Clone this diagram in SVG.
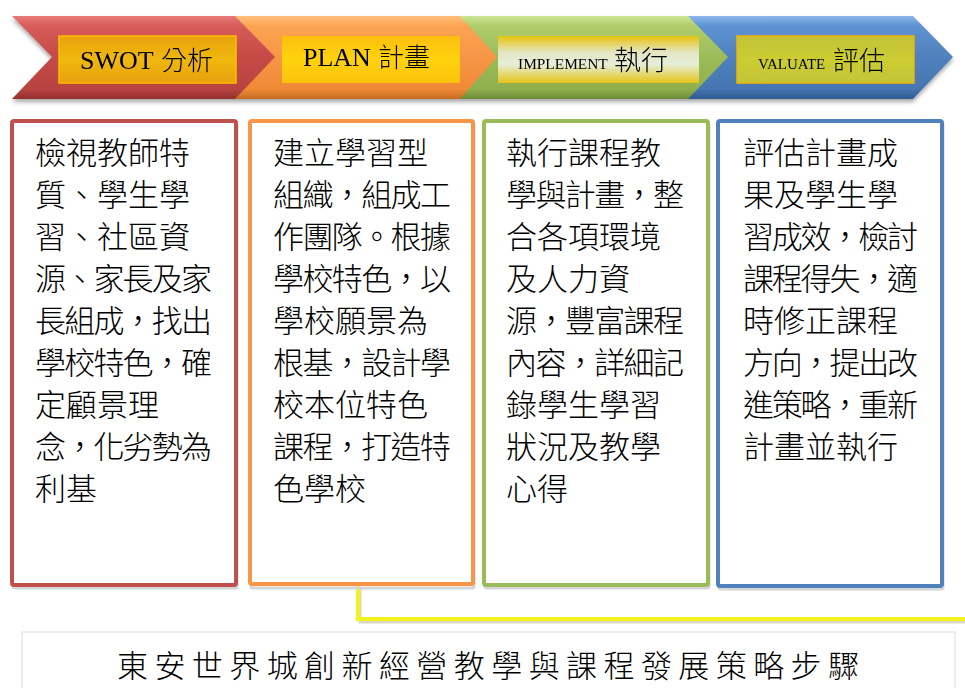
<svg xmlns="http://www.w3.org/2000/svg" width="965" height="688" viewBox="0 0 965 688">
<style>
.lbl{font-family:"Liberation Serif","Noto Sans CJK TC",serif;fill:#000}
.cjk{font-family:"Noto Sans CJK TC","Noto Sans CJK JP",sans-serif;font-weight:300}
.body{font-family:"Noto Sans CJK TC","Noto Sans CJK JP",sans-serif;font-size:31px;font-weight:300;fill:#000}
.box{fill:#fff;stroke-width:4}
.shadow{fill:none;stroke:#d6d6d6;stroke-width:3}
</style>
<defs>
<linearGradient id="gRed" x1="0" y1="0" x2="0" y2="1">
<stop offset="0" stop-color="#e87a78"/><stop offset="0.12" stop-color="#d65c59"/><stop offset="0.5" stop-color="#c64a47"/><stop offset="0.88" stop-color="#b84340"/><stop offset="1" stop-color="#93302e"/>
</linearGradient>
<linearGradient id="gOrange" x1="0" y1="0" x2="0" y2="1">
<stop offset="0" stop-color="#fdc07c"/><stop offset="0.12" stop-color="#fba452"/><stop offset="0.5" stop-color="#f79646"/><stop offset="0.88" stop-color="#ef8a36"/><stop offset="1" stop-color="#c86a22"/>
</linearGradient>
<linearGradient id="gGreen" x1="0" y1="0" x2="0" y2="1">
<stop offset="0" stop-color="#cde596"/><stop offset="0.12" stop-color="#b0cc6c"/><stop offset="0.5" stop-color="#9bbb59"/><stop offset="0.88" stop-color="#90b04e"/><stop offset="1" stop-color="#6e8a38"/>
</linearGradient>
<linearGradient id="gBlue" x1="0" y1="0" x2="0" y2="1">
<stop offset="0" stop-color="#8cb6ea"/><stop offset="0.12" stop-color="#5e92d2"/><stop offset="0.5" stop-color="#4f81bd"/><stop offset="0.88" stop-color="#4676b2"/><stop offset="1" stop-color="#2f5a90"/>
</linearGradient>
<linearGradient id="gSwot" x1="0" y1="0" x2="0" y2="1">
<stop offset="0" stop-color="#e8a20e"/><stop offset="0.5" stop-color="#f0b810"/><stop offset="1" stop-color="#e6a00c"/>
</linearGradient>
<linearGradient id="gPlan" x1="0" y1="0" x2="0" y2="1">
<stop offset="0" stop-color="#fcbf0a"/><stop offset="0.5" stop-color="#ffd20a"/><stop offset="1" stop-color="#fcc208"/>
</linearGradient>
<linearGradient id="gImpl" x1="0" y1="0" x2="0" y2="1">
<stop offset="0" stop-color="#e6c20c"/><stop offset="0.35" stop-color="#e4e6c4"/><stop offset="0.6" stop-color="#e6eed8"/><stop offset="1" stop-color="#e6c416"/>
</linearGradient>
<linearGradient id="gVal" x1="0" y1="0" x2="0" y2="1">
<stop offset="0" stop-color="#c4c23a"/><stop offset="0.5" stop-color="#cbcd30"/><stop offset="1" stop-color="#c4c43a"/>
</linearGradient>
<filter id="sh" x="-5%" y="-10%" width="110%" height="130%">
<feGaussianBlur in="SourceAlpha" stdDeviation="2"/>
<feOffset dx="0" dy="3" result="b"/>
<feComponentTransfer><feFuncA type="linear" slope="0.35"/></feComponentTransfer>
<feMerge><feMergeNode/><feMergeNode in="SourceGraphic"/></feMerge>
</filter>
</defs>

<g id="chevrons" filter="url(#sh)">
<g id="step-evaluate">
<polygon points="680,16 913,16 953,57 913,99 680,99 715,57" fill="url(#gBlue)"/>
<rect x="737" y="36" width="177" height="47" fill="url(#gVal)" stroke="#f2b400" stroke-width="1.5"/>
<text class="lbl" x="758" y="69" font-size="15">VALUATE</text>
<text class="lbl cjk" x="833" y="70" font-size="26">評估</text>
</g>
<g id="step-implement">
<polygon points="455,16 688,16 728,57 688,99 455,99 490,57" fill="url(#gGreen)"/>
<rect x="498" y="36" width="201" height="47" fill="url(#gImpl)"/>
<text class="lbl" x="518" y="69" font-size="15.4">IMPLEMENT</text>
<text class="lbl cjk" x="614" y="70" font-size="27">執行</text>
</g>
<g id="step-plan">
<polygon points="230,16 460,16 497,57 460,99 230,99 265,57" fill="url(#gOrange)"/>
<rect x="282" y="36" width="178" height="47" fill="url(#gPlan)"/>
<text class="lbl" x="303" y="66" font-size="26">PLAN</text>
<text class="lbl cjk" x="378" y="67" font-size="26">計畫</text>
</g>
<g id="step-swot">
<polygon points="12,16 235,16 275,57 235,99 12,99 52,57" fill="url(#gRed)"/>
<rect x="59" y="36" width="177" height="47" fill="url(#gSwot)" stroke="#ffc000" stroke-width="1.5"/>
<text class="lbl" x="80" y="69" font-size="26">SWOT</text>
<text class="lbl cjk" x="161" y="70" font-size="26">分析</text>
</g>
</g>

<g id="connectors">
<polyline points="360,588 360,622 965,622" fill="none" stroke="#d8d8c0" stroke-width="3"/>
<polyline points="358,586 358,619 965,619" fill="none" stroke="#f2f21c" stroke-width="4"/>
</g>

<g id="box-swot">
<rect class="shadow" x="13" y="123" width="224" height="465" rx="2"/>
<rect class="box" x="12" y="121" width="224" height="464" rx="2" stroke="#c0504d"/>
<text class="body" x="35" y="164">檢視教師特</text>
<text class="body" x="35" y="206">質、學生學</text>
<text class="body" x="35" y="248">習、社區資</text>
<text class="body" x="35" y="290" textLength="177" lengthAdjust="spacing">源、家長及家</text>
<text class="body" x="35" y="332" textLength="177" lengthAdjust="spacing">長組成，找出</text>
<text class="body" x="35" y="374" textLength="177" lengthAdjust="spacing">學校特色，確</text>
<text class="body" x="35" y="416">定顧景理</text>
<text class="body" x="35" y="458" textLength="177" lengthAdjust="spacing">念，化劣勢為</text>
<text class="body" x="35" y="500">利基</text>
</g>

<g id="box-plan">
<rect class="shadow" x="251" y="123" width="223" height="465" rx="2"/>
<rect class="box" x="250" y="121" width="223" height="463" rx="2" stroke="#f79646"/>
<text class="body" x="273" y="164">建立學習型</text>
<text class="body" x="273" y="206" textLength="178" lengthAdjust="spacing">組織，組成工</text>
<text class="body" x="273" y="248" textLength="178" lengthAdjust="spacing">作團隊。根據</text>
<text class="body" x="273" y="290" textLength="178" lengthAdjust="spacing">學校特色，以</text>
<text class="body" x="273" y="332">學校願景為</text>
<text class="body" x="273" y="374" textLength="178" lengthAdjust="spacing">根基，設計學</text>
<text class="body" x="273" y="416">校本位特色</text>
<text class="body" x="273" y="458" textLength="178" lengthAdjust="spacing">課程，打造特</text>
<text class="body" x="273" y="500">色學校</text>
</g>

<g id="box-implement">
<rect class="shadow" x="485" y="123" width="224" height="465" rx="2"/>
<rect class="box" x="484" y="121" width="224" height="464" rx="2" stroke="#9bbb59"/>
<text class="body" x="506" y="164">執行課程教</text>
<text class="body" x="506" y="206" textLength="178" lengthAdjust="spacing">學與計畫，整</text>
<text class="body" x="506" y="248">合各項環境</text>
<text class="body" x="506" y="290">及人力資</text>
<text class="body" x="506" y="332" textLength="178" lengthAdjust="spacing">源，豐富課程</text>
<text class="body" x="506" y="374" textLength="178" lengthAdjust="spacing">內容，詳細記</text>
<text class="body" x="506" y="416">錄學生學習</text>
<text class="body" x="506" y="458">狀況及教學</text>
<text class="body" x="506" y="500">心得</text>
</g>

<g id="box-evaluate">
<rect class="shadow" x="719" y="123" width="224" height="466" rx="2"/>
<rect class="box" x="718" y="121" width="224" height="465" rx="2" stroke="#4f81bd"/>
<text class="body" x="743" y="164">評估計畫成</text>
<text class="body" x="743" y="206">果及學生學</text>
<text class="body" x="743" y="248" textLength="175" lengthAdjust="spacing">習成效，檢討</text>
<text class="body" x="743" y="290" textLength="175" lengthAdjust="spacing">課程得失，適</text>
<text class="body" x="743" y="332">時修正課程</text>
<text class="body" x="743" y="374" textLength="175" lengthAdjust="spacing">方向，提出改</text>
<text class="body" x="743" y="416" textLength="175" lengthAdjust="spacing">進策略，重新</text>
<text class="body" x="743" y="458">計畫並執行</text>
</g>

<g id="caption">
<rect x="22" y="632" width="933" height="70" fill="#fff" stroke="#d9d9d9" stroke-width="1"/>
<text x="117" y="677" font-family="Noto Sans CJK TC, Noto Sans CJK JP, sans-serif" font-size="31" font-weight="300" textLength="742" lengthAdjust="spacing" fill="#000">東安世界城創新經營教學與課程發展策略步驟</text>
</g>
</svg>
